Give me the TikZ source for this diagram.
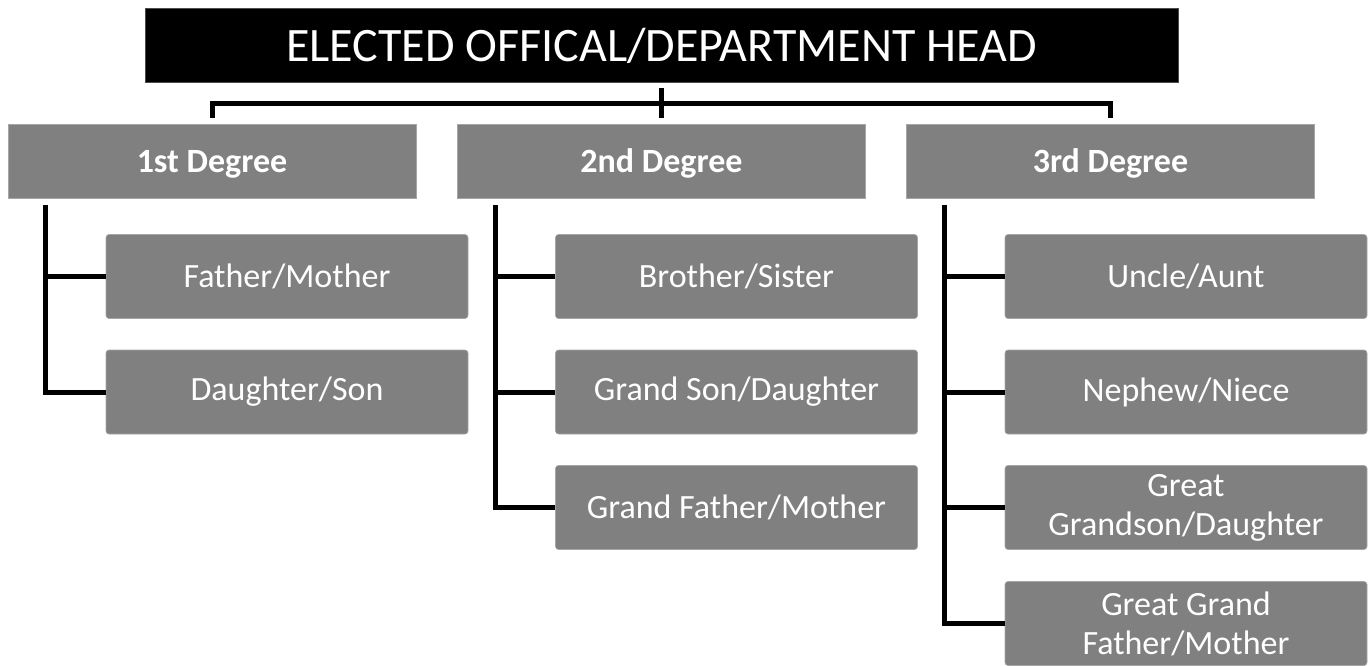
\documentclass[tikz,border=0pt]{standalone}
\usepackage{fontspec}
\setmainfont{Carlito}
\begin{document}
\begin{tikzpicture}[x=1pt,y=-1pt,
  titlebox/.style={fill=black,draw=black!70,line width=0.6pt,text=white,minimum width=1033pt,minimum height=74pt,inner sep=0pt,text depth=0pt,font=\fontsize{48}{56}\selectfont},
  degbox/.style={fill=black!50,draw=black!35,line width=0.6pt,text=white,minimum width=408pt,minimum height=74pt,inner sep=0pt,text depth=0pt,font=\bfseries\fontsize{34}{40}\selectfont},
  kinbox/.style={fill=black!50,draw=black!35,line width=0.6pt,rounded corners=3pt,text=white,minimum width=362pt,minimum height=84pt,inner sep=0pt,align=center,font=\fontsize{34}{39}\selectfont},
  conn/.style={line width=5pt,draw=black}]
\useasboundingbox (0,0) rectangle (1371,665);
\node[titlebox] (title) at (661.5,45) {ELECTED OFFICAL/DEPARTMENT HEAD};
\node[degbox] (d1) at (212,161) {1st Degree};
\node[degbox] (d2) at (661.5,161) {2nd Degree};
\node[degbox] (d3) at (1110.5,161) {3rd Degree};
% column 1
\node[kinbox] (c11) at (287,276.5) {Father/Mother};
\node[kinbox] (c12) at (287,392) {Daughter/Son};
% column 2
\node[kinbox] (c21) at (736.5,276.5) {Brother/Sister};
\node[kinbox] (c22) at (736.5,392) {Grand Son/Daughter};
\node[kinbox] (c23) at (736.5,507.5) {Grand Father/Mother};
% column 3
\node[kinbox] (c31) at (1186,276.5) {Uncle/Aunt};
\node[kinbox] (c32) at (1186,392) {Nephew/Niece};
\node[kinbox] (c33) at (1186,507.5) {Great\\Grandson/Daughter};
\node[kinbox] (c34) at (1186,623.5) {Great Grand\\Father/Mother};
% top bus
\coordinate (bus) at (0,103);
\draw[conn] ([yshift=-6pt]title.south) -- ([yshift=6pt]d2.north);
\draw[conn] ([yshift=6pt]d1.north) -- (d1.north |- bus) -- (d3.north |- bus) -- ([yshift=6pt]d3.north);
% column trunks
\coordinate (v1) at ([xshift=38pt,yshift=-7pt]d1.south west);
\coordinate (v2) at ([xshift=38pt,yshift=-7pt]d2.south west);
\coordinate (v3) at ([xshift=38pt,yshift=-7pt]d3.south west);
\draw[conn] (v1) |- (c12.west);
\draw[conn] (c11.west) -- (c11.west -| v1);
\draw[conn] (v2) |- (c23.west);
\draw[conn] (c21.west) -- (c21.west -| v2);
\draw[conn] (c22.west) -- (c22.west -| v2);
\draw[conn] (v3) |- (c34.west);
\draw[conn] (c31.west) -- (c31.west -| v3);
\draw[conn] (c32.west) -- (c32.west -| v3);
\draw[conn] (c33.west) -- (c33.west -| v3);
\end{tikzpicture}
\end{document}
